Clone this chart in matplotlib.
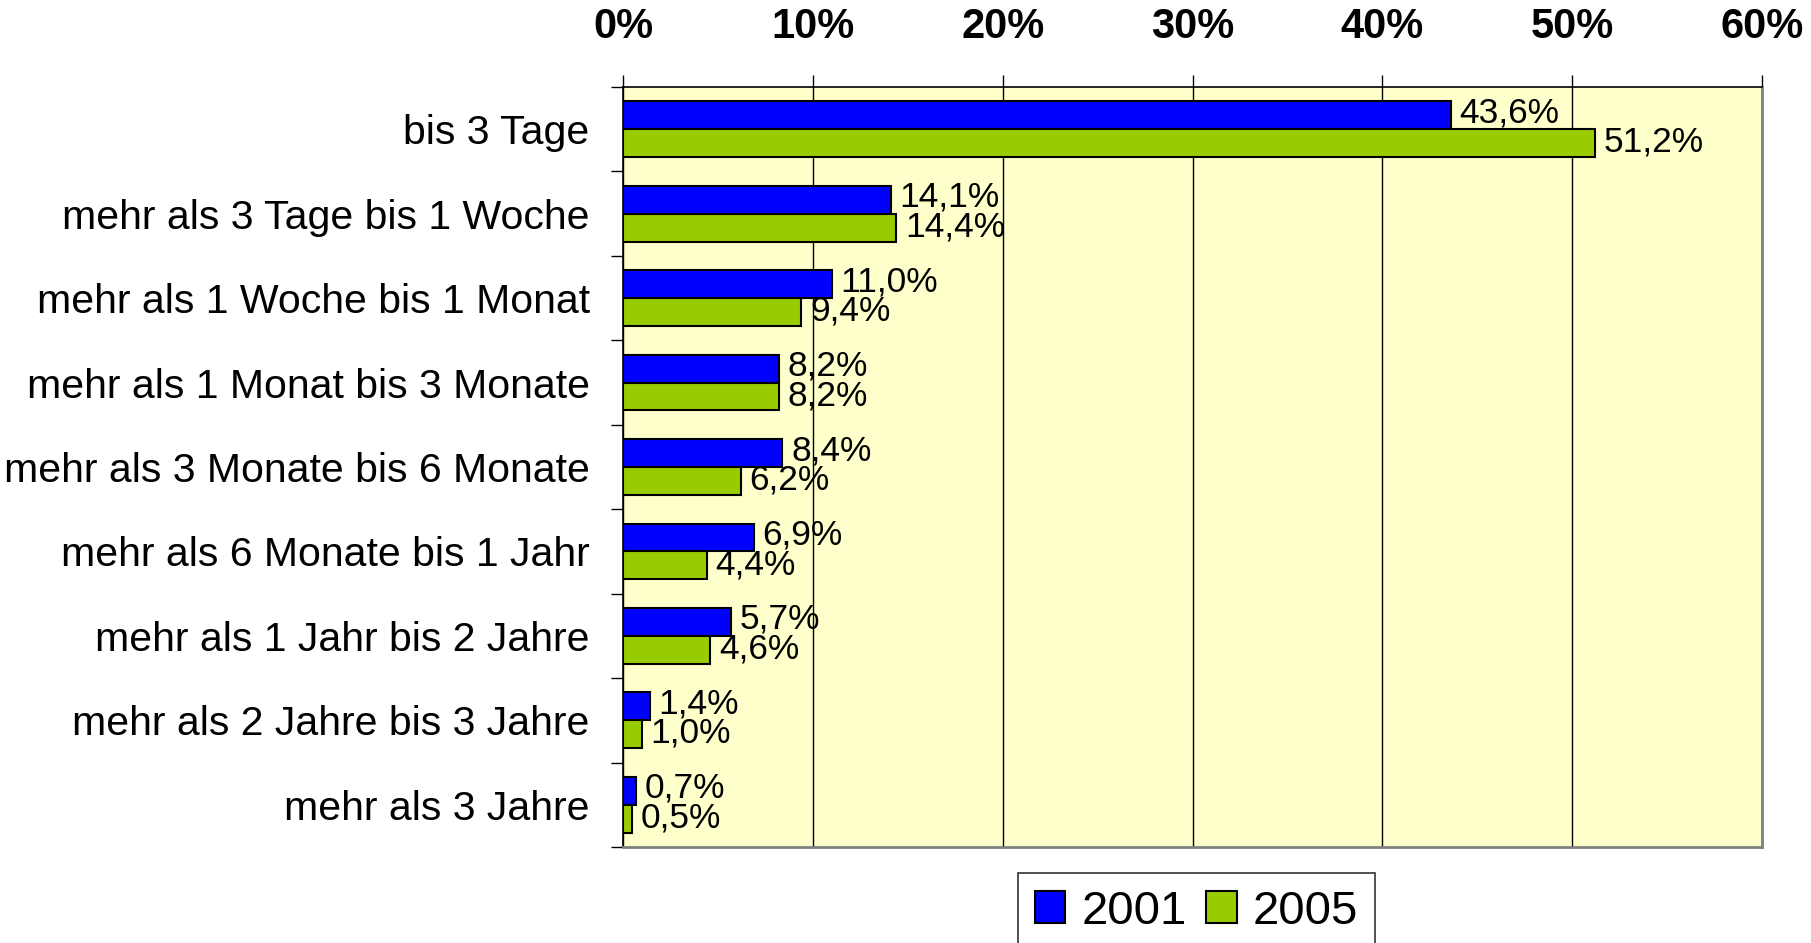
import numpy as np
import matplotlib
matplotlib.use("Agg")
from matplotlib import pyplot as plt
from matplotlib.ticker import FixedLocator

plt.rcParams['font.family'] = ['Liberation Sans', 'DejaVu Sans']

# Daten
kategorien = [
    "bis 3 Tage",
    "mehr als 3 Tage bis 1 Woche",
    "mehr als 1 Woche bis 1 Monat",
    "mehr als 1 Monat bis 3 Monate",
    "mehr als 3 Monate bis 6 Monate",
    "mehr als 6 Monate bis 1 Jahr",
    "mehr als 1 Jahr bis 2 Jahre",
    "mehr als 2 Jahre bis 3 Jahre",
    "mehr als 3 Jahre",
]
werte_2001 = [43.6, 14.1, 11.0, 8.2, 8.4, 6.9, 5.7, 1.4, 0.7]
werte_2005 = [51.2, 14.4, 9.4, 8.2, 6.2, 4.4, 4.6, 1.0, 0.5]
x_ticks = [0, 10, 20, 30, 40, 50, 60]

fig = plt.figure(figsize=(18.11, 9.43), dpi=100)
ax = fig.add_axes([623 / 1811, 1 - 847 / 943, (1762 - 623) / 1811, (847 - 87) / 943])
ax.set_facecolor('#FFFFCC')

n = len(kategorien)
y = np.arange(n)
h = 0.33

ax.barh(y - h / 2, werte_2001, height=h, color='#0000FF', edgecolor='black', linewidth=1.5, label='2001', zorder=3)
ax.barh(y + h / 2, werte_2005, height=h, color='#99CC00', edgecolor='black', linewidth=1.5, label='2005', zorder=3)

for yi, v in zip(y, werte_2001):
    ax.text(v + 0.45, yi - h / 2 - 0.03, f"{v:.1f}%".replace('.', ','), va='center', ha='left', fontsize=25.5, zorder=4)
for yi, v in zip(y, werte_2005):
    ax.text(v + 0.45, yi + h / 2 - 0.01, f"{v:.1f}%".replace('.', ','), va='center', ha='left', fontsize=25.5, zorder=4)

ax.set_xlim(0, 60)
ax.set_ylim(n - 0.5, -0.5)

ax.xaxis.tick_top()
ax.set_xticks(x_ticks)
ax.set_xticklabels([f"{t}%" for t in x_ticks], fontsize=30, fontweight='bold')
ax.tick_params(axis='x', direction='out', length=9, width=1, pad=20)
ax.grid(axis='x', color='black', linewidth=1, zorder=1)

ax.set_yticks(y)
ax.set_yticklabels(kategorien, fontsize=29.5)
ax.tick_params(axis='y', which='major', length=0, pad=24)
ax.yaxis.set_minor_locator(FixedLocator(np.arange(n + 1) - 0.5))
ax.tick_params(axis='y', which='minor', length=9, width=1, direction='out')

for s in ['top', 'left']:
    ax.spines[s].set_color('black')
    ax.spines[s].set_linewidth(1.2)
for s in ['bottom', 'right']:
    ax.spines[s].set_color('#808080')
    ax.spines[s].set_linewidth(2)

leg = fig.legend(loc='upper left', bbox_to_anchor=(1018 / 1811, 1 - 873 / 943), ncol=2, fontsize=34,
                 frameon=True, fancybox=False, edgecolor='black', handlelength=0.65, handleheight=0.65,
                 handletextpad=0.35, columnspacing=0.4, borderpad=0.35, borderaxespad=0)
leg.get_frame().set_linewidth(1.2)

fig.savefig('out.png', dpi=100)
